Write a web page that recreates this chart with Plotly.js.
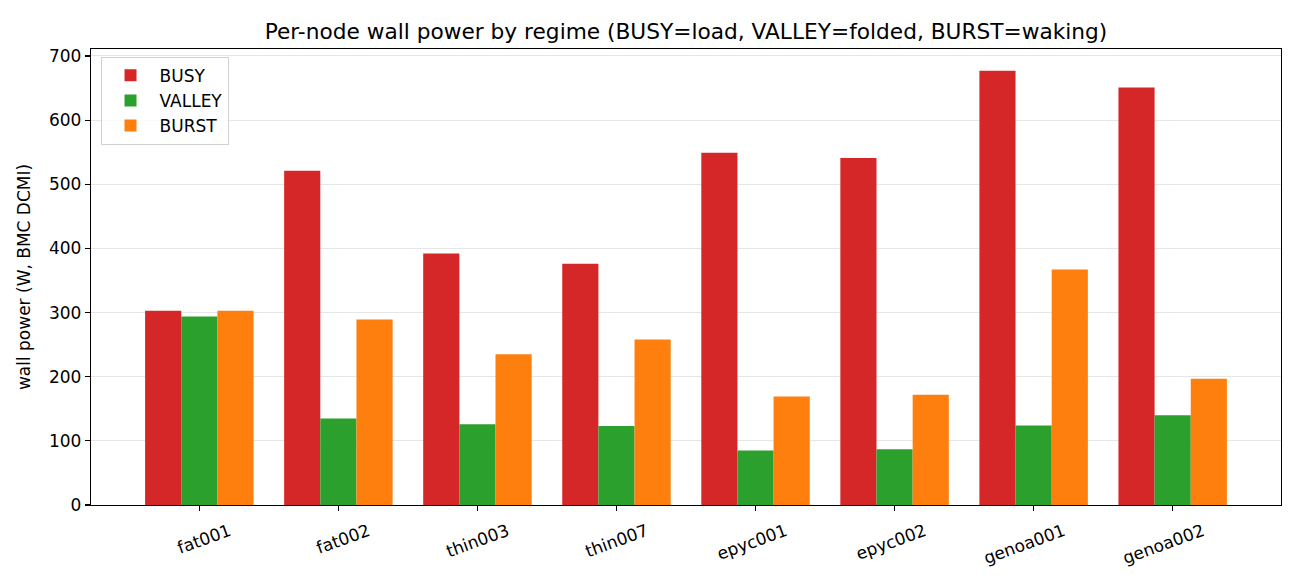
<!DOCTYPE html>
<html>
<head>
<meta charset="utf-8">
<script src="https://cdn.plot.ly/plotly-3.0.1.min.js"></script>
<style>html,body{margin:0;padding:0;background:#fff}#chart{width:1300px;height:585px}</style>
</head>
<body>
<div id="chart"></div>
<script>
const nodes = ["fat001","fat002","thin003","thin007","epyc001","epyc002","genoa001","genoa002"];
const busy   = [303, 521, 392, 376, 549, 541, 677, 651];
const valley = [294, 135, 126, 123,  85,  87, 124, 140];
const burst  = [303, 289, 235, 258, 169, 172, 367, 197];

const seriesNames = ["BUSY","VALLEY","BURST"];
const seriesColors = ["#d62728","#2ca02c","#ff7f0e"];
const seriesData = [busy, valley, burst];
const barW = 0.26;

const traces = seriesData.map((vals, i) => ({
  type: "bar",
  name: seriesNames[i],
  x: nodes,
  y: vals,
  width: barW,
  offset: -1.5*barW + i*barW,
  marker: {color: seriesColors[i], line: {width: 0}},
  hoverinfo: "x+y+name"
}));

const font = "DejaVu Sans, sans-serif";
const layout = {
  width: 1300, height: 585,
  margin: {l: 91, r: 19, t: 49, b: 80},
  paper_bgcolor: "#fff", plot_bgcolor: "#fff",
  font: {family: font, size: 17, color: "#000"},
  title: {text: "Per-node wall power by regime (BUSY=load, VALLEY=folded, BURST=waking)",
          font: {family: font, size: 21.7, color: "#000"}, xref: "paper", x: 0.5, xanchor: "center",
          yref: "container", y: 1 - 31/585, yanchor: "middle"},
  barmode: "overlay",
  showlegend: true,
  legend: {x: 0.008, y: 0.983, xanchor: "left", yanchor: "top",
           bgcolor: "rgba(255,255,255,0.8)", bordercolor: "#d0d0d0", borderwidth: 1,
           font: {family: font, size: 17, color: "#000"}, tracegroupgap: 2, itemwidth: 48},
  xaxis: {type: "category", range: [-0.779, 7.779], showgrid: false,
          ticks: "outside", ticklen: 5, tickwidth: 1.2, tickcolor: "#000",
          tickangle: -20, tickfont: {family: font, size: 17, color: "#000"},
          ticklabelshift: 30, ticklabelstandoff: 4,
          showline: true, linecolor: "#000", linewidth: 1.2, mirror: true, zeroline: false},
  yaxis: {range: [0, 710.9], dtick: 100, tick0: 0, showgrid: true, gridcolor: "#e6e6e6", gridwidth: 1,
          ticks: "outside", ticklen: 5, tickwidth: 1.2, tickcolor: "#000",
          tickfont: {family: font, size: 17, color: "#000"},
          showline: true, linecolor: "#000", linewidth: 1.2, mirror: true, zeroline: false,
          title: {text: "wall power (W, BMC DCMI)", font: {family: font, size: 17, color: "#000"}, standoff: 14}}
};

Plotly.newPlot("chart", traces, layout, {staticPlot: true, displayModeBar: false});
</script>
</body>
</html>
